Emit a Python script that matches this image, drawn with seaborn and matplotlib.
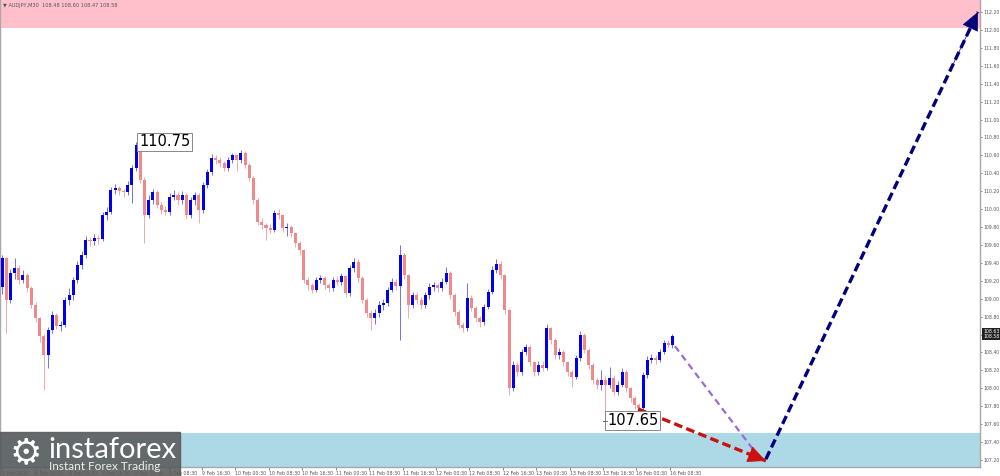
import numpy as np
import pandas as pd
import matplotlib.pyplot as plt
import seaborn as sns

# Chart header and price data (AUDJPY, hourly-ish bars)
header = "\u25bc AUDJPY,M30  108.48 108.60 108.47 108.58"
first_open = 109.13
closes = [109.45, 108.99, 109.29, 109.34, 109.21, 109.26, 109.12, 108.93, 108.78, 108.58,
          108.37, 108.65, 108.82, 108.70, 108.71, 108.99, 109.04, 109.21, 109.38, 109.49,
          109.66, 109.64, 109.68, 109.67, 109.93, 109.97, 110.21, 110.24, 110.20, 110.19,
          110.27, 110.46, 110.72, 110.33, 109.93, 110.10, 110.19, 110.05, 109.99, 109.97,
          110.14, 110.16, 110.10, 110.16, 109.93, 110.10, 110.16, 109.99, 110.27, 110.41,
          110.57, 110.55, 110.51, 110.46, 110.55, 110.60, 110.55, 110.63, 110.49, 110.35,
          110.10, 109.86, 109.82, 109.79, 109.77, 109.96, 109.93, 109.79, 109.80, 109.73,
          109.62, 109.54, 109.21, 109.15, 109.10, 109.21, 109.23, 109.15, 109.12, 109.21,
          109.19, 109.25, 109.06, 109.34, 109.41, 109.23, 108.99, 108.84, 108.78, 108.84,
          108.93, 108.95, 109.10, 109.19, 109.14, 109.49, 109.26, 108.93, 109.04, 108.99,
          108.93, 109.04, 109.13, 109.15, 109.12, 109.19, 109.29, 109.04, 108.85, 108.71,
          108.67, 109.01, 108.90, 108.78, 108.74, 108.91, 109.08, 109.32, 109.39, 109.26,
          108.87, 108.00, 108.26, 108.18, 108.41, 108.46, 108.29, 108.18, 108.26, 108.23,
          108.67, 108.54, 108.37, 108.41, 108.29, 108.18, 108.13, 108.34, 108.60, 108.43,
          108.26, 108.09, 108.04, 108.09, 108.04, 108.12, 107.96, 108.04, 108.18, 108.00,
          107.89, 107.81, 107.78, 108.15, 108.32, 108.34, 108.32, 108.41, 108.51, 108.48,
          108.58]
highs = [109.49, 109.47, 109.33, 109.45, 109.38, 109.32, 109.29, 109.14, 108.96, 108.80,
         108.61, 108.68, 108.86, 108.84, 108.75, 109.02, 109.12, 109.24, 109.42, 109.53,
         109.70, 109.69, 109.72, 109.71, 109.97, 110.02, 110.25, 110.28, 110.26, 110.23,
         110.31, 110.49, 110.75, 110.73, 110.36, 110.16, 110.23, 110.21, 110.08, 110.03,
         110.18, 110.21, 110.19, 110.20, 110.18, 110.13, 110.19, 110.18, 110.30, 110.45,
         110.61, 110.60, 110.58, 110.54, 110.58, 110.63, 110.62, 110.66, 110.65, 110.51,
         110.37, 110.12, 109.90, 109.85, 109.83, 109.99, 110.00, 109.95, 109.84, 109.82,
         109.75, 109.64, 109.56, 109.24, 109.18, 109.24, 109.27, 109.25, 109.18, 109.24,
         109.25, 109.29, 109.27, 109.38, 109.46, 109.44, 109.25, 109.01, 108.87, 108.88,
         108.97, 109.00, 109.13, 109.23, 109.22, 109.60, 109.51, 109.28, 109.08, 109.07,
         109.02, 109.07, 109.17, 109.19, 109.18, 109.23, 109.35, 109.31, 109.06, 108.87,
         108.74, 109.18, 109.04, 108.92, 108.81, 108.94, 109.11, 109.36, 109.44, 109.42,
         109.28, 108.89, 108.30, 108.29, 108.44, 108.50, 108.48, 108.31, 108.30, 108.30,
         108.72, 108.69, 108.56, 108.45, 108.43, 108.31, 108.21, 108.37, 108.64, 108.62,
         108.45, 108.28, 108.12, 108.20, 108.14, 108.24, 108.15, 108.08, 108.23, 108.20,
         108.02, 107.91, 107.84, 108.18, 108.36, 108.38, 108.37, 108.44, 108.54, 108.54,
         108.61]
lows = [109.05, 108.62, 108.95, 109.22, 109.16, 109.17, 109.08, 108.90, 108.74, 108.52,
        107.98, 108.23, 108.62, 108.66, 108.64, 108.68, 108.93, 108.99, 109.17, 109.33,
        109.46, 109.59, 109.60, 109.61, 109.64, 109.88, 109.95, 110.17, 110.16, 110.14,
        110.16, 110.07, 110.43, 110.29, 109.62, 109.90, 110.06, 110.01, 109.95, 109.93,
        109.94, 110.10, 110.05, 110.06, 109.89, 109.90, 110.05, 109.85, 109.96, 110.24,
        110.38, 110.50, 110.47, 110.42, 110.43, 110.51, 110.42, 110.52, 110.46, 110.31,
        110.06, 109.82, 109.78, 109.66, 109.73, 109.74, 109.89, 109.75, 109.70, 109.69,
        109.58, 109.49, 109.17, 109.10, 109.06, 109.07, 109.17, 109.11, 109.08, 109.09,
        109.15, 109.15, 109.02, 109.03, 109.30, 109.19, 108.95, 108.80, 108.65, 108.72,
        108.80, 108.87, 108.92, 109.07, 109.10, 108.54, 109.22, 108.78, 108.90, 108.94,
        108.88, 108.90, 109.00, 109.09, 109.07, 109.09, 109.16, 109.00, 108.81, 108.67,
        108.63, 108.64, 108.86, 108.74, 108.68, 108.71, 108.88, 109.05, 109.29, 109.22,
        108.83, 107.93, 107.97, 108.14, 108.15, 108.37, 108.25, 108.14, 108.15, 108.19,
        108.20, 108.50, 108.33, 108.33, 108.25, 108.14, 108.01, 108.10, 108.31, 108.39,
        108.22, 108.05, 107.99, 107.98, 107.65, 108.00, 107.92, 107.93, 108.01, 107.96,
        107.85, 107.77, 107.71, 107.75, 108.12, 108.28, 108.27, 108.29, 108.38, 108.45,
        108.45]

time_labels = ["5 Feb 2020", "6 Feb 00:30", "6 Feb 08:30", "6 Feb 16:30", "9 Feb 00:30",
               "9 Feb 08:30", "9 Feb 16:30", "10 Feb 00:30", "10 Feb 08:30", "10 Feb 16:30",
               "11 Feb 00:30", "11 Feb 08:30", "11 Feb 16:30", "12 Feb 00:30", "12 Feb 08:30",
               "12 Feb 16:30", "13 Feb 00:30", "13 Feb 08:30", "13 Feb 16:30", "16 Feb 00:30",
               "16 Feb 08:30"]
time_label_bars = [-0.1, 7.9, 15.9, 23.8, 31.8, 39.8, 47.8, 55.7, 63.7, 71.7, 79.6, 87.6,
                   95.6, 103.6, 111.5, 119.5, 127.5, 135.5, 143.4, 151.4, 159.4]
price_ticks = [107.2, 107.4, 107.6, 107.8, 108.0, 108.2, 108.4, 108.6, 108.8, 109.0, 109.2,
               109.4, 109.6, 109.8, 110.0, 110.2, 110.4, 110.6, 110.8, 111.0, 111.2, 111.4,
               111.6, 111.8, 112.0, 112.2]

# zones and wave markup
resistance_zone = (112.02, 113.0)
support_zone = (106.5, 107.50)
peak_label = (32.7, 110.75, "110.75")
trough_label = (144.4, 107.64, "107.65")
purple_leg_x, purple_leg_y = [160.6, 180.2], [108.47, 107.26]
red_leg_x, red_leg_y = [151.8, 182.3], [107.77, 107.19]
navy_leg_x, navy_leg_y = [182.3, 232.9], [107.21, 112.20]
ask_bid = [("108.63", 108.635), ("108.58", 108.575)]

sns.set_theme(style="white")
plt.rcParams["font.family"] = ["DejaVu Sans"]

fig = plt.figure(figsize=(10, 4.76), dpi=100)
ax = fig.add_axes([0, 9 / 476, 0.98, 467 / 476])

opens = [first_open] + closes[:-1]
df = pd.DataFrame({"bar": np.arange(len(closes)), "open": opens, "high": highs,
                   "low": lows, "close": closes})
df["up"] = df["close"] >= df["open"]
body_col = np.where(df["up"], "#0000f0", "#f08a8a")
wick_col = np.where(df["up"], "#6f6fff", "#f4a8a8")

ax.axhspan(*resistance_zone, color="#ffc0cb", zorder=0, lw=0)
ax.axhspan(*support_zone, color="#add8e6", zorder=0, lw=0)

ax.vlines(df["bar"], df["low"], df["high"], colors=wick_col, lw=0.7, zorder=2)
ax.bar(df["bar"], (df["close"] - df["open"]).abs().clip(lower=0.012),
       bottom=df[["open", "close"]].min(axis=1), width=0.72, color=body_col,
       linewidth=0, zorder=3)

# forecast legs
sns.lineplot(x=purple_leg_x, y=purple_leg_y, ax=ax, color="#9a6ad8", lw=1.6,
             linestyle=(0, (3, 2)), zorder=4)
sns.lineplot(x=red_leg_x, y=red_leg_y, ax=ax, color="#cc1010", lw=2.4,
             linestyle=(0, (2.6, 1.3)), zorder=5)
sns.lineplot(x=navy_leg_x, y=navy_leg_y, ax=ax, color="#00007a", lw=2.4,
             linestyle=(0, (2.6, 1.3)), zorder=5)
for lx, ly, col in [(red_leg_x, red_leg_y, "#cc1010"), (navy_leg_x, navy_leg_y, "#00007a")]:
    back = (lx[1] - 0.12 * (lx[1] - lx[0]), ly[1] - 0.12 * (ly[1] - ly[0]))
    ax.annotate("", xy=(lx[1], ly[1]), xytext=back,
                arrowprops=dict(arrowstyle="-|>,head_length=0.6,head_width=0.28",
                                mutation_scale=20, color=col, lw=0.5,
                                shrinkA=0, shrinkB=0), zorder=6)

for bx, py, txt in [peak_label, trough_label]:
    ax.text(bx, py, txt, fontsize=10.5, color="black", ha="left", va="center", zorder=7,
            bbox=dict(boxstyle="square,pad=0.12", fc="white", ec="#888888", lw=0.7))
ax.plot([trough_label[0] - 1.0, trough_label[0]], [trough_label[1]] * 2,
        color="#666666", lw=0.7, zorder=7)

ax.set_xlim(-0.48, 233.4)
ax.set_ylim(107.122, 112.334)

ax.yaxis.tick_right()
ax.set_yticks(price_ticks)
ax.set_yticklabels([f"{p:.2f}" for p in price_ticks])
ax.tick_params(axis="y", right=True, length=1.5, width=0.5, pad=1.0, labelsize=3.3,
               colors="#555555")
ax.set_xticks(time_label_bars)
ax.set_xticklabels(time_labels)
ax.tick_params(axis="x", bottom=True, length=2, width=0.5, pad=0.8, labelsize=3.4,
               colors="#555555")
for lbl in ax.get_xticklabels():
    lbl.set_ha("left")
ax.set_xlabel("")
ax.set_ylabel("")
for side in ["left", "right", "bottom"]:
    ax.spines[side].set_color("#a8a8a8")
    ax.spines[side].set_linewidth(1.0)
ax.spines["top"].set_visible(False)

ax.text(3 / 980, 1 - 5 / 467, header, transform=ax.transAxes, fontsize=3.6,
        color="#555555", va="center", ha="left")

for txt, py in ask_bid:
    ax.text(1.003, py, txt, transform=ax.get_yaxis_transform(), fontsize=3.3,
            color="white", va="center", ha="left", clip_on=False, zorder=8,
            bbox=dict(boxstyle="square,pad=0.15", fc="#202020", ec="none"))

# watermark logo
fig.patches.append(plt.Rectangle((0, 0), 0.18, 44 / 476, transform=fig.transFigure,
                                 color="#5a5a5a", alpha=0.88, zorder=10))
fig.text(0.026, (476 - 453) / 476, "\u2699", fontsize=26, color="white",
         ha="center", va="center", zorder=11, family=["DejaVu Sans"])
fig.text(0.048, (476 - 450) / 476, "instaforex", fontsize=21, color="white",
         ha="left", va="center", zorder=11, family=["Lato", "DejaVu Sans"])
fig.text(0.049, (476 - 467) / 476, "Instant Forex Trading", fontsize=8.5, color="#eeeeee",
         ha="left", va="center", zorder=11, family=["Lato", "DejaVu Sans"])

fig.savefig("out.png", dpi=100)
